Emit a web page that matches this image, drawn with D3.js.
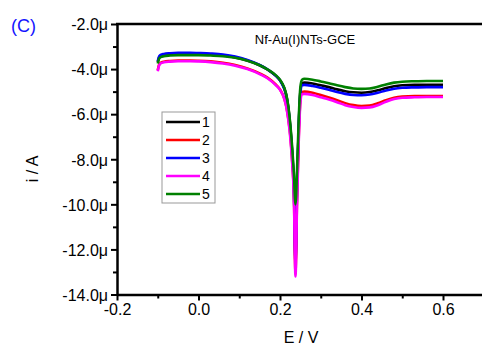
<!DOCTYPE html>
<html>
<head>
<meta charset="utf-8">
<script src="https://cdn.jsdelivr.net/npm/d3@7"></script>
<style>
  body { margin: 0; background: #fff; }
  svg { display: block; font-family: "Liberation Sans", Arial, sans-serif; }
</style>
</head>
<body>
<div id="chart"></div>
<script>
// potential (V) shared by all curves
const potential = [-0.1, -0.097, -0.093, -0.085, -0.07, -0.05, -0.02, 0, 0.03, 0.06, 0.09, 0.12, 0.15, 0.17, 0.19, 0.2,
  0.21, 0.215, 0.22, 0.225, 0.23, 0.234, 0.238, 0.242, 0.246, 0.25, 0.254, 0.26, 0.28, 0.3, 0.32, 0.34, 0.36, 0.38,
  0.4, 0.42, 0.44, 0.46, 0.48, 0.5, 0.53, 0.56, 0.6]

// current in µA
const curve1 = [-3.7, -3.5, -3.42, -3.38, -3.35, -3.33, -3.33, -3.34, -3.36, -3.40, -3.48, -3.62, -3.83, -4.03, -4.3, -4.5,
  -4.84, -5.13, -5.65, -6.5, -7.7, -9.1, -12.6, -9.1, -6.5, -5.0, -4.62, -4.6, -4.64, -4.72, -4.8, -4.9, -4.98, -5.03,
  -5.05, -5.02, -4.94, -4.84, -4.76, -4.72, -4.7, -4.7, -4.7]
const curve2 = [-4.05, -3.82, -3.72, -3.67, -3.64, -3.62, -3.62, -3.63, -3.66, -3.72, -3.82, -3.97, -4.19, -4.39, -4.69, -4.9,
  -5.28, -5.62, -6.15, -6.9, -8.1, -9.5, -13.0, -9.6, -7.0, -5.4, -5.02, -5.0, -5.05, -5.15, -5.26, -5.38, -5.51, -5.6,
  -5.64, -5.62, -5.52, -5.38, -5.27, -5.22, -5.2, -5.2, -5.2]
const curve3 = [-3.65, -3.45, -3.37, -3.33, -3.30, -3.28, -3.28, -3.29, -3.31, -3.35, -3.44, -3.6, -3.82, -4.02, -4.3, -4.5,
  -4.85, -5.15, -5.7, -6.6, -7.8, -9.2, -12.4, -9.0, -6.6, -5.1, -4.72, -4.7, -4.75, -4.83, -4.92, -5.02, -5.1, -5.15,
  -5.16, -5.13, -5.05, -4.95, -4.87, -4.83, -4.81, -4.8, -4.8]
const curve4 = [-4.1, -3.85, -3.75, -3.70, -3.67, -3.65, -3.65, -3.66, -3.69, -3.75, -3.85, -4.0, -4.22, -4.42, -4.72, -4.92,
  -5.3, -5.65, -6.2, -7.0, -8.2, -9.6, -13.2, -9.8, -7.2, -5.5, -5.12, -5.1, -5.15, -5.25, -5.35, -5.47, -5.6, -5.68,
  -5.72, -5.7, -5.6, -5.45, -5.33, -5.27, -5.25, -5.24, -5.24]
const curve5 = [-3.75, -3.55, -3.47, -3.43, -3.40, -3.38, -3.38, -3.38, -3.40, -3.43, -3.5, -3.63, -3.83, -4.02, -4.28, -4.47,
  -4.8, -5.1, -5.6, -6.4, -7.5, -8.6, -10.0, -8.4, -6.2, -4.8, -4.47, -4.43, -4.47, -4.55, -4.63, -4.72, -4.8, -4.86,
  -4.88, -4.86, -4.78, -4.68, -4.6, -4.56, -4.54, -4.53, -4.53]

const seriesNames = ['1', '2', '3', '4', '5']
const seriesColors = ['#000000', '#ff0000', '#0000ff', '#ff00ff', '#008000']
const seriesValues = [curve1, curve2, curve3, curve4, curve5]

const xTicks = [-0.2, 0.0, 0.2, 0.4, 0.6]
const yTicks = [-2, -4, -6, -8, -10, -12, -14]
const title = 'Nf-Au(I)NTs-GCE'

const width = 482, height = 347
const svg = d3.select('#chart').append('svg')
    .attr('width', width)
    .attr('height', height)

const x = d3.scaleLinear().domain([-0.2, 0.7]).range([117, 483.75])
const y = d3.scaleLinear().domain([-14, -2]).range([294.5, 24])

// minor ticks
const gMinorY = svg.append('g')
    .attr('transform', `translate(${x(-0.2)},0)`)
    .call(d3.axisLeft(y).tickValues(d3.range(-13, -2, 2)).tickSize(4).tickFormat(''))
const gMinorX = svg.append('g')
    .attr('transform', `translate(0,${y(-14)})`)
    .call(d3.axisBottom(x).tickValues([-0.1, 0.1, 0.3, 0.5]).tickSize(4).tickFormat(''))
gMinorY.select('.domain').remove()
gMinorX.select('.domain').remove()

// main axes
const yAxis = svg.append('g')
    .attr('transform', `translate(${x(-0.2)},0)`)
    .call(d3.axisLeft(y).tickValues(yTicks).tickSize(6).tickSizeOuter(0)
        .tickFormat(d => d3.format('.1f')(d) .replace('−', '-') + 'μ'))
const xAxis = svg.append('g')
    .attr('transform', `translate(0,${y(-14)})`)
    .call(d3.axisBottom(x).tickValues(xTicks).tickSize(6).tickSizeOuter(0)
        .tickFormat(d => d3.format('.1f')(d).replace('−', '-')))

svg.selectAll('.tick line').attr('stroke', '#000').attr('stroke-width', 2)
svg.selectAll('.domain').attr('stroke', '#000').attr('stroke-width', 2.5)
yAxis.selectAll('text').attr('font-size', 16).attr('x', -9).attr('dy', '0.36em').attr('fill', '#000')
xAxis.selectAll('text').attr('font-size', 16).attr('y', 9).attr('fill', '#000')
svg.selectAll('.tick text').attr('font-family', '"Liberation Sans", Arial, sans-serif')

// top frame
svg.append('line')
    .attr('x1', x(-0.2) - 1).attr('x2', x(0.7))
    .attr('y1', y(-2)).attr('y2', y(-2))
    .attr('stroke', '#000').attr('stroke-width', 2.5)

// curves
const line = d3.line()
    .x((d, i) => x(potential[i]))
    .y(d => y(d))
    .curve(d3.curveMonotoneX)

svg.append('g').selectAll('path')
    .data(seriesValues)
    .join('path')
    .attr('d', d => line(d))
    .attr('fill', 'none')
    .attr('stroke', (d, i) => seriesColors[i])
    .attr('stroke-width', 2.6)
    .attr('stroke-linejoin', 'round')

// legend
const legend = svg.append('g').attr('transform', 'translate(162,112)')
legend.append('rect')
    .attr('width', 53).attr('height', 91)
    .attr('fill', '#fff').attr('stroke', '#999').attr('stroke-width', 1)
const item = legend.selectAll('.item')
    .data(seriesNames)
    .join('g')
    .attr('class', 'item')
    .attr('transform', (d, i) => `translate(0,${10 + i * 18})`)
item.append('line')
    .attr('x1', 4).attr('x2', 38)
    .attr('stroke', (d, i) => seriesColors[i])
    .attr('stroke-width', 2.6)
item.append('text')
    .attr('x', 40).attr('dy', '0.36em')
    .attr('font-size', 14)
    .text(d => d)

// texts
svg.append('text')
    .attr('x', 305).attr('y', 44)
    .attr('text-anchor', 'middle')
    .attr('font-size', 13)
    .text(title)

svg.append('text')
    .attr('x', 11).attr('y', 32)
    .attr('font-size', 18)
    .attr('fill', '#1414ff')
    .text('(C)')

svg.append('text')
    .attr('transform', 'translate(38,169) rotate(-90)')
    .attr('text-anchor', 'middle')
    .attr('font-size', 16)
    .text('i / A')

svg.append('text')
    .attr('x', 301).attr('y', 343)
    .attr('text-anchor', 'middle')
    .attr('font-size', 16)
    .text('E / V')
</script>
</body>
</html>
